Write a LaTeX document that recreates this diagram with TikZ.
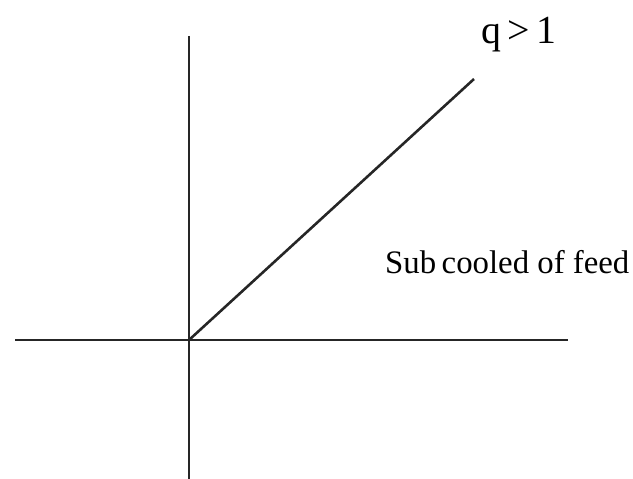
\documentclass[tikz,border=0pt]{standalone}
\usepackage{fontspec}
\setmainfont{Liberation Serif}
\usepackage{tikz}
\usetikzlibrary{positioning}

\begin{document}
\begin{tikzpicture}[x=0.03cm,y=-0.03cm,
  ax/.style={line width=2.2pt,black!85},
  lbl/.style={inner sep=0pt,anchor=base west}]
\useasboundingbox (0,0) rectangle (633,479);
% ---------- axes ----------
\coordinate (o) at (189,340);
\coordinate (xl) at (15,340);
\coordinate (xr) at (568,340);
\coordinate (yt) at (189,36);
\coordinate (yb) at (189,479);
\coordinate (q1) at (474,79);
\draw[ax] (xl) -- (xr);
\draw[ax] (yt) -- (yb);
\draw[ax] (o) -- (q1);
% ---------- labels ----------
\node[lbl,font=\fontsize{34}{38}\selectfont] (ql) at (481,44) {q\,>\,1};
\node[lbl,font=\fontsize{28}{32}\selectfont] (sf) at (385,273) {Sub\,cooled of feed};
\end{tikzpicture}
\end{document}
